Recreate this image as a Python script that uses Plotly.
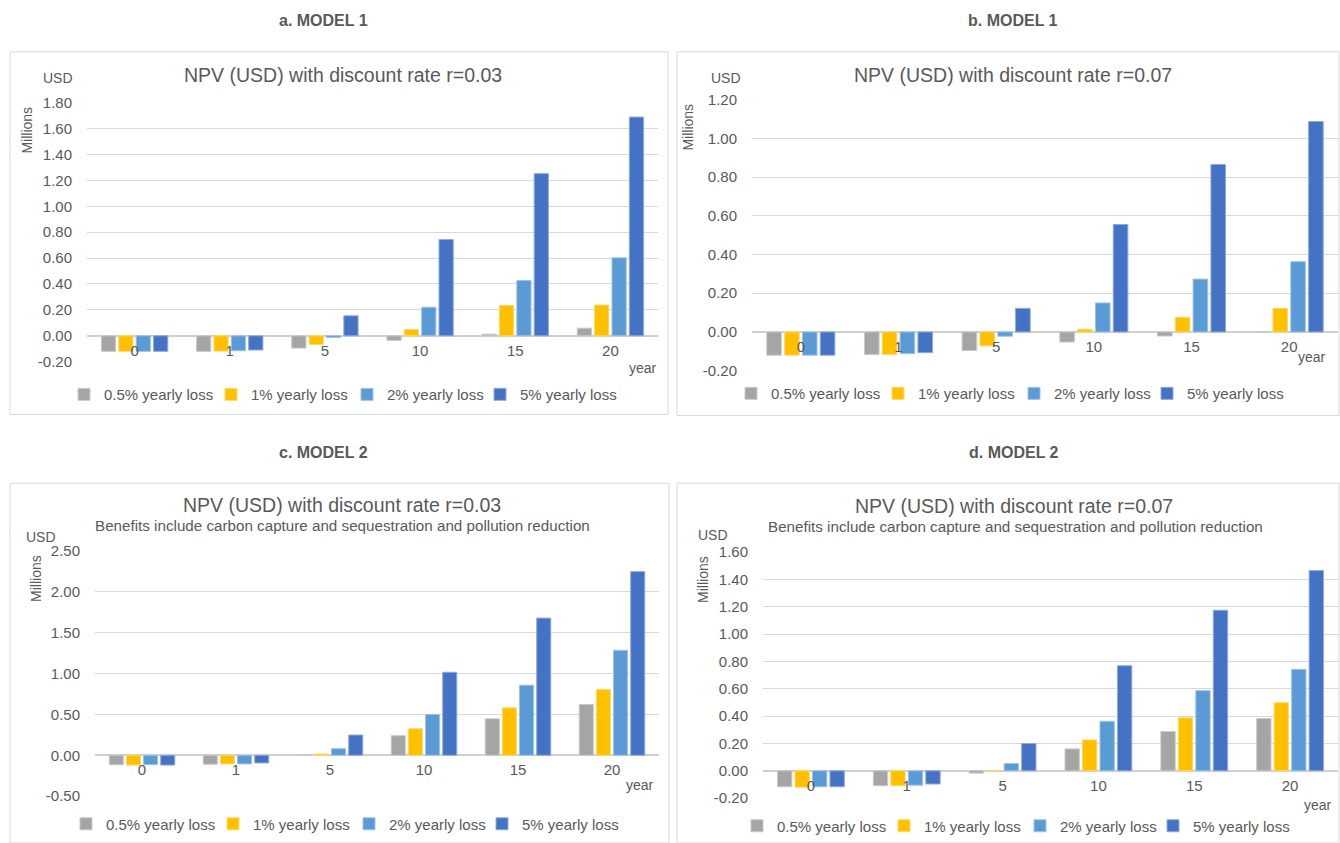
import plotly.graph_objects as go

W, H = 1340, 843
# vertical extent of the drawn figure inside the page
TOP_OFF, DRAW_H = 8, 827

years = ["0", "1", "5", "10", "15", "20"]
series_names = ["0.5% yearly loss", "1% yearly loss", "2% yearly loss", "5% yearly loss"]
series_colors = ["#A5A5A5", "#FFC000", "#5B9BD5", "#4472C4"]
series_edges = ["#C9C9C9", "#FFD966", "#9DC3E6", "#8FAADC"]
legend_widths = [102, 91, 88, 100]

# NPV in USD millions, Model 1, discount rate 0.03
m1_r03_loss05 = [-0.12, -0.12, -0.095, -0.036, 0.013, 0.059]
m1_r03_loss1 = [-0.12, -0.118, -0.067, 0.049, 0.234, 0.237]
m1_r03_loss2 = [-0.12, -0.115, -0.013, 0.221, 0.427, 0.602]
m1_r03_loss5 = [-0.12, -0.11, 0.154, 0.743, 1.252, 1.689]

# Model 1, discount rate 0.07
m1_r07_loss05 = [-0.12, -0.117, -0.096, -0.052, -0.021, 0.0]
m1_r07_loss1 = [-0.12, -0.117, -0.072, 0.014, 0.076, 0.122]
m1_r07_loss2 = [-0.12, -0.112, -0.022, 0.150, 0.273, 0.363]
m1_r07_loss5 = [-0.12, -0.107, 0.122, 0.555, 0.865, 1.087]

# Model 2 (carbon capture + pollution reduction), discount rate 0.03
m2_r03_loss05 = [-0.115, -0.11, 0.0, 0.24, 0.447, 0.622]
m2_r03_loss1 = [-0.12, -0.106, 0.016, 0.325, 0.581, 0.805]
m2_r03_loss2 = [-0.115, -0.106, 0.081, 0.50, 0.858, 1.285]
m2_r03_loss5 = [-0.12, -0.094, 0.248, 1.016, 1.679, 2.248]

# Model 2, discount rate 0.07
m2_r07_loss05 = [-0.117, -0.109, -0.017, 0.16, 0.287, 0.382]
m2_r07_loss1 = [-0.12, -0.109, 0.0, 0.226, 0.387, 0.498]
m2_r07_loss2 = [-0.117, -0.105, 0.053, 0.362, 0.586, 0.742]
m2_r07_loss5 = [-0.117, -0.097, 0.199, 0.768, 1.174, 1.464]

yticks_a = [-0.2, 0.0, 0.2, 0.4, 0.6, 0.8, 1.0, 1.2, 1.4, 1.6, 1.8]
yticks_b = [-0.2, 0.0, 0.2, 0.4, 0.6, 0.8, 1.0, 1.2]
yticks_c = [-0.5, 0.0, 0.5, 1.0, 1.5, 2.0, 2.5]
yticks_d = [-0.2, 0.0, 0.2, 0.4, 0.6, 0.8, 1.0, 1.2, 1.4, 1.6]

headers = ["a. MODEL 1", "b. MODEL 1", "c. MODEL 2", "d. MODEL 2"]
titles = ["NPV (USD) with discount rate r=0.03", "NPV (USD) with discount rate r=0.07",
          "NPV (USD) with discount rate r=0.03", "NPV (USD) with discount rate r=0.07"]
subtitle = "Benefits include carbon capture and sequestration and pollution reduction"

TXT = "#595959"
GRID = "#D9D9D9"
FONT = "Liberation Sans, Arial, sans-serif"


def px_x(v):
    return v / W


def px_y(v):
    return 1 - (v - TOP_OFF) / DRAW_H


panels = [
    dict(series=[m1_r03_loss05, m1_r03_loss1, m1_r03_loss2, m1_r03_loss5], ticks=yticks_a,
         plot_x=(87, 658), plot_y=(102, 362), box=(10, 51, 668, 415),
         header=(323, 20), title=(343, 74), sub=None, usd=(58, 77), mill=(27, 130),
         year=(643, 368), legend=(64, 395)),
    dict(series=[m1_r07_loss05, m1_r07_loss1, m1_r07_loss2, m1_r07_loss5], ticks=yticks_b,
         plot_x=(752, 1338), plot_y=(99, 371), box=(677, 51, 1339, 416),
         header=(1013, 20), title=(1013, 74), sub=None, usd=(726, 77), mill=(688, 127),
         year=(1312, 357), legend=(731, 394)),
    dict(series=[m2_r03_loss05, m2_r03_loss1, m2_r03_loss2, m2_r03_loss5], ticks=yticks_c,
         plot_x=(95, 659), plot_y=(552, 798), box=(10, 484, 669, 845),
         header=(323, 453), title=(342, 506), sub=(342, 526), usd=(41, 538), mill=(36, 580),
         year=(640, 787), legend=(66, 826)),
    dict(series=[m2_r07_loss05, m2_r07_loss1, m2_r07_loss2, m2_r07_loss5], ticks=yticks_d,
         plot_x=(763, 1338), plot_y=(553, 800), box=(677, 484, 1339, 845),
         header=(1014, 453), title=(1014, 507), sub=(1015, 527), usd=(713, 536), mill=(703, 580),
         year=(1318, 807), legend=(737, 828)),
]

fig = go.Figure()
layout = dict(
    width=W, height=H, margin=dict(l=0, r=0, t=0, b=0),
    paper_bgcolor="white", plot_bgcolor="white",
    barmode="group", bargap=0.27, bargroupgap=0.18,
    font=dict(family=FONT, color=TXT, size=14),
    annotations=[], shapes=[],
)

for i, p in enumerate(panels):
    k = "" if i == 0 else str(i + 1)
    xa, ya = "x" + k, "y" + k
    leg = "legend" + k
    for name, color, edge, lw, vals in zip(series_names, series_colors, series_edges,
                                           legend_widths, p["series"]):
        fig.add_trace(go.Bar(
            x=years, y=vals, name=name, xaxis=xa, yaxis=ya, legend=leg, legendwidth=lw,
            marker=dict(color=color, line=dict(color=edge, width=1)),
        ))

    lo, hi = min(p["ticks"]), max(p["ticks"])
    y0d, y1d = px_y(p["plot_y"][1]), px_y(p["plot_y"][0])
    zero_pos = y0d + (0 - lo) / (hi - lo) * (y1d - y0d)

    layout["xaxis" + k] = dict(
        domain=[px_x(p["plot_x"][0]), px_x(p["plot_x"][1])],
        anchor="free", position=zero_pos, showgrid=False, showline=False,
        zeroline=False, ticks="", ticklabelstandoff=4,
        tickfont=dict(size=15, color=TXT), type="category",
    )
    layout["yaxis" + k] = dict(
        domain=[y0d, y1d], range=[lo, hi], anchor=xa,
        tickvals=p["ticks"], ticktext=[f"{v:.2f}" for v in p["ticks"]],
        showgrid=True, gridcolor=GRID, gridwidth=1,
        zeroline=True, zerolinecolor="#D0D0D0", zerolinewidth=2,
        showline=False, ticks="", ticklabelstandoff=14,
        tickfont=dict(size=15, color=TXT),
    )
    layout[leg] = dict(
        orientation="h", x=px_x(p["legend"][0]), y=px_y(p["legend"][1]),
        xanchor="left", yanchor="middle", font=dict(size=15, color=TXT),
        bgcolor="rgba(0,0,0,0)", itemwidth=30, traceorder="normal",
        itemclick=False, itemdoubleclick=False,
    )

    bx0, by0, bx1, by1 = p["box"]
    layout["shapes"].append(dict(
        type="rect", xref="paper", yref="paper",
        x0=px_x(bx0), x1=px_x(bx1), y0=px_y(by1), y1=px_y(by0),
        line=dict(color="#D9D9D9", width=1), fillcolor="rgba(0,0,0,0)", layer="below",
    ))

    def note(text, pos, size, **kw):
        layout["annotations"].append(dict(
            text=text, x=px_x(pos[0]), y=px_y(pos[1]), xref="paper", yref="paper",
            showarrow=False, xanchor=kw.pop("xanchor", "center"), yanchor="middle",
            font=dict(size=size, color=kw.pop("color", TXT), family=FONT), **kw,
        ))

    note(f"<b>{headers[i]}</b>", p["header"], 16, color="#595959")
    note(titles[i], p["title"], 19.5)
    if p["sub"]:
        note(subtitle, p["sub"], 15.2)
    note("USD", p["usd"], 14)
    note("Millions", p["mill"], 14, textangle=-90)
    note("year", p["year"], 14)

fig.update_layout(**layout)
fig.write_html("out.html")
